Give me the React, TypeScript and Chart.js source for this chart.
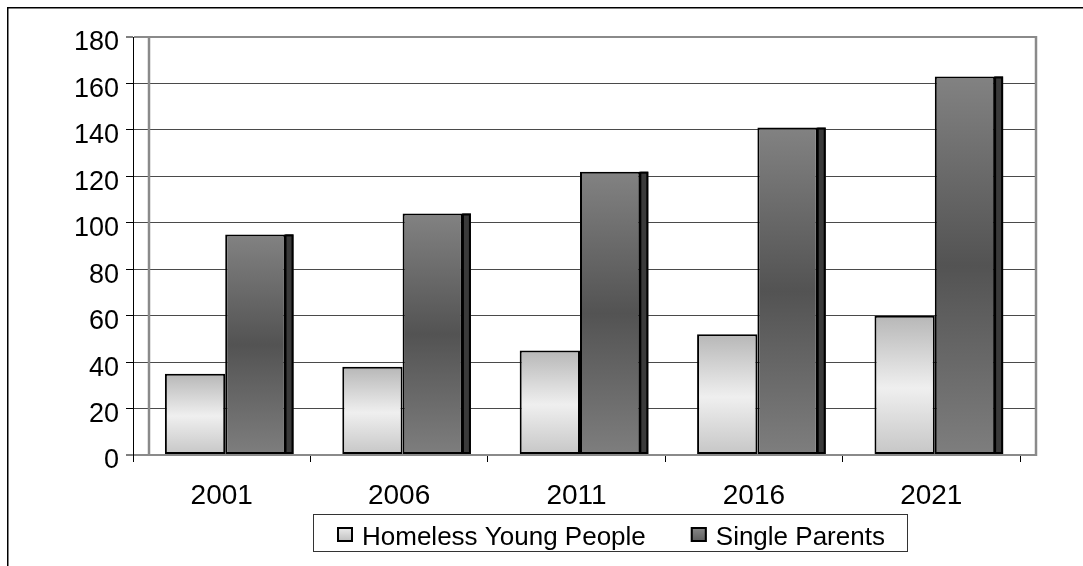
import React, { useEffect, useRef } from "react";
import { Chart, registerables } from "chart.js";

Chart.register(...registerables);

const categories = ["2001", "2006", "2011", "2016", "2021"];
const homelessYoungPeople = [35, 38, 45, 52, 60];
const singleParents = [95, 104, 122, 141, 163];
const seriesLabels = ["Homeless Young People", "Single Parents"];
const yMin = 0;
const yMax = 180;
const yStep = 20;

const FONT = '"Liberation Sans", Arial, sans-serif';

const lightStops: [number, string][] = [
  [0, "#b7b7b7"],
  [0.52, "#efefef"],
  [1, "#c6c6c6"],
];
const darkStops: [number, string][] = [
  [0, "#828282"],
  [0.5, "#535353"],
  [1, "#7e7e7e"],
];

function barFill(stops: [number, string][], fallback: string) {
  return (c: any) => {
    if (c.type !== "data") return fallback;
    const chart = c.chart;
    const ys = chart.scales && chart.scales.y;
    if (!ys || !chart.chartArea) return fallback;
    const top = ys.getPixelForValue(c.raw);
    const bottom = ys.getPixelForValue(0);
    if (!isFinite(top) || !isFinite(bottom) || bottom - top < 1) return fallback;
    const g = chart.ctx.createLinearGradient(0, top, 0, bottom);
    stops.forEach(([o, col]) => g.addColorStop(o, col));
    return g;
  };
}

const isEdge = (v: number) => v === yMax || v === yMin;
const gridColor = (v: number) => (isEdge(v) ? "#8a8a8a" : "#4a4a4a");
const gridWidth = (v: number) => (isEdge(v) ? 2 : 1);
const align = (p: number, w: number) => Math.round(p - w / 2) + w / 2;

const DEPTH = 16;
const BAR_SHIFT = 3.5;
const SIDE = 8;

const decorPlugin = {
  id: "decor",
  beforeDraw(chart: any) {
    const ctx = chart.ctx;
    ctx.save();
    ctx.strokeStyle = "#000";
    ctx.lineWidth = 1.5;
    ctx.beginPath();
    ctx.moveTo(7.75, chart.height + 5);
    ctx.lineTo(7.75, 7.75);
    ctx.lineTo(chart.width + 5, 7.75);
    ctx.stroke();
    ctx.restore();
  },
  beforeDatasetsDraw(chart: any) {
    const ctx = chart.ctx;
    const { left, right, top, bottom } = chart.chartArea;
    const ys = chart.scales.y;
    ctx.save();
    // gridline extensions into the back wall
    ys.ticks.forEach((t: any) => {
      const w = gridWidth(t.value);
      const yy = align(ys.getPixelForValue(t.value), w);
      ctx.strokeStyle = gridColor(t.value);
      ctx.lineWidth = w;
      ctx.beginPath();
      ctx.moveTo(right, yy);
      ctx.lineTo(right + DEPTH + 1, yy);
      ctx.stroke();
    });
    ctx.strokeStyle = "#8a8a8a";
    ctx.lineWidth = 2.5;
    ctx.beginPath();
    ctx.moveTo(left + DEPTH, top);
    ctx.lineTo(left + DEPTH, bottom);
    ctx.moveTo(right + DEPTH, top - 1);
    ctx.lineTo(right + DEPTH, bottom + 1);
    ctx.stroke();
    ctx.restore();
    ctx.save();
    ctx.translate(BAR_SHIFT, 0);
  },
  afterDatasetsDraw(chart: any) {
    const ctx = chart.ctx;
    const meta = chart.getDatasetMeta(1);
    meta.data.forEach((el: any) => {
      const { x, y, base, width } = el.getProps(["x", "y", "base", "width"], true);
      const x0 = x + width / 2;
      ctx.fillStyle = "#3a3a3a";
      ctx.fillRect(x0, y, SIDE, base - y);
      ctx.strokeStyle = "#000";
      ctx.lineWidth = 2;
      ctx.strokeRect(x0, y + 1, SIDE - 1, base - y - 2);
    });
    ctx.restore();
  },
  afterDraw(chart: any) {
    const ctx = chart.ctx;
    ctx.save();
    ctx.font = `26px ${FONT}`;
    ctx.textBaseline = "alphabetic";
    const boxLeft = 313;
    const startX = 337;
    const iconW = 16;
    const iconH = 15;
    const iconY = 527;
    const textGap = 9;
    const itemGap = 45;
    const baseline = 545;
    let x = startX;
    let textEnd = startX;
    const fills = [
      [[0, "#eeeeee"], [1, "#bdbdbd"]],
      [[0, "#8a8a8a"], [1, "#5c5c5c"]],
    ];
    chart.data.datasets.forEach((ds: any, i: number) => {
      const g = ctx.createLinearGradient(0, iconY, 0, iconY + iconH);
      (fills[i] as any).forEach(([o, c]: any) => g.addColorStop(o, c));
      ctx.fillStyle = g;
      ctx.fillRect(x, iconY, iconW, iconH);
      ctx.strokeStyle = "#000";
      ctx.lineWidth = 2;
      ctx.strokeRect(x + 1, iconY + 1, iconW - 2, iconH - 2);
      ctx.fillStyle = "#000";
      const tx = x + iconW + textGap;
      ctx.fillText(ds.label, tx, baseline);
      textEnd = tx + ctx.measureText(ds.label).width;
      x = textEnd + itemGap;
    });
    ctx.strokeStyle = "#333";
    ctx.lineWidth = 1;
    ctx.strokeRect(boxLeft + 0.5, 514.5, Math.round(textEnd + 22 - boxLeft), 37);
    ctx.restore();
  },
};

export default function App() {
  const canvasRef = useRef<HTMLCanvasElement | null>(null);

  useEffect(() => {
    const canvas = canvasRef.current;
    if (!canvas) return;
    Chart.defaults.font.family = FONT;
    Chart.defaults.color = "#000";
    const chart = new Chart(canvas, {
      type: "bar",
      data: {
        labels: categories,
        datasets: [
          {
            label: seriesLabels[0],
            data: homelessYoungPeople,
            backgroundColor: barFill(lightStops, "#d8d8d8") as any,
            borderColor: "#000",
            borderWidth: 2,
            borderSkipped: false,
          },
          {
            label: seriesLabels[1],
            data: singleParents,
            backgroundColor: barFill(darkStops, "#6a6a6a") as any,
            borderColor: "#000",
            borderWidth: 2,
            borderSkipped: false,
          },
        ],
      },
      options: {
        responsive: false,
        animation: false,
        events: [],
        datasets: {
          bar: {
            categoryPercentage: 0.68,
            barPercentage: 1.0,
          },
        },
        layout: {
          padding: { left: 0, top: 37, right: 63, bottom: 51 },
        },
        plugins: {
          legend: { display: false },
          title: { display: false },
          tooltip: { enabled: false },
        },
        scales: {
          x: {
            afterFit: (s: any) => {
              s.height = 60;
            },
            grid: {
              drawOnChartArea: false,
              drawTicks: true,
              tickLength: 7,
              tickColor: "#000",
              tickWidth: 1,
              offset: true,
            },
            border: { display: true, color: "#8a8a8a", width: 2 },
            ticks: {
              font: { size: 28, family: FONT },
              color: "#000",
              padding: 17,
              maxRotation: 0,
              autoSkip: false,
            },
          },
          y: {
            min: yMin,
            max: yMax,
            afterFit: (s: any) => {
              s.width = 133;
            },
            grid: {
              drawOnChartArea: true,
              drawTicks: true,
              tickLength: 7,
              tickColor: "#000",
              tickWidth: 1,
              color: (c: any) => (c.tick ? gridColor(c.tick.value) : "#4a4a4a"),
              lineWidth: (c: any) => (c.tick ? gridWidth(c.tick.value) : 1),
            },
            border: { display: true, color: "#000", width: 1 },
            ticks: {
              stepSize: yStep,
              font: { size: 27, family: FONT },
              color: "#000",
              padding: 7,
              labelOffset: 6,
            },
          },
        },
      },
      plugins: [decorPlugin],
    });
    return () => chart.destroy();
  }, []);

  return (
    <div style={{ position: "fixed", left: 0, top: 0, width: 1083, height: 566, background: "#fff" }}>
      <canvas ref={canvasRef} width={1083} height={566} style={{ display: "block" }} />
    </div>
  );
}
